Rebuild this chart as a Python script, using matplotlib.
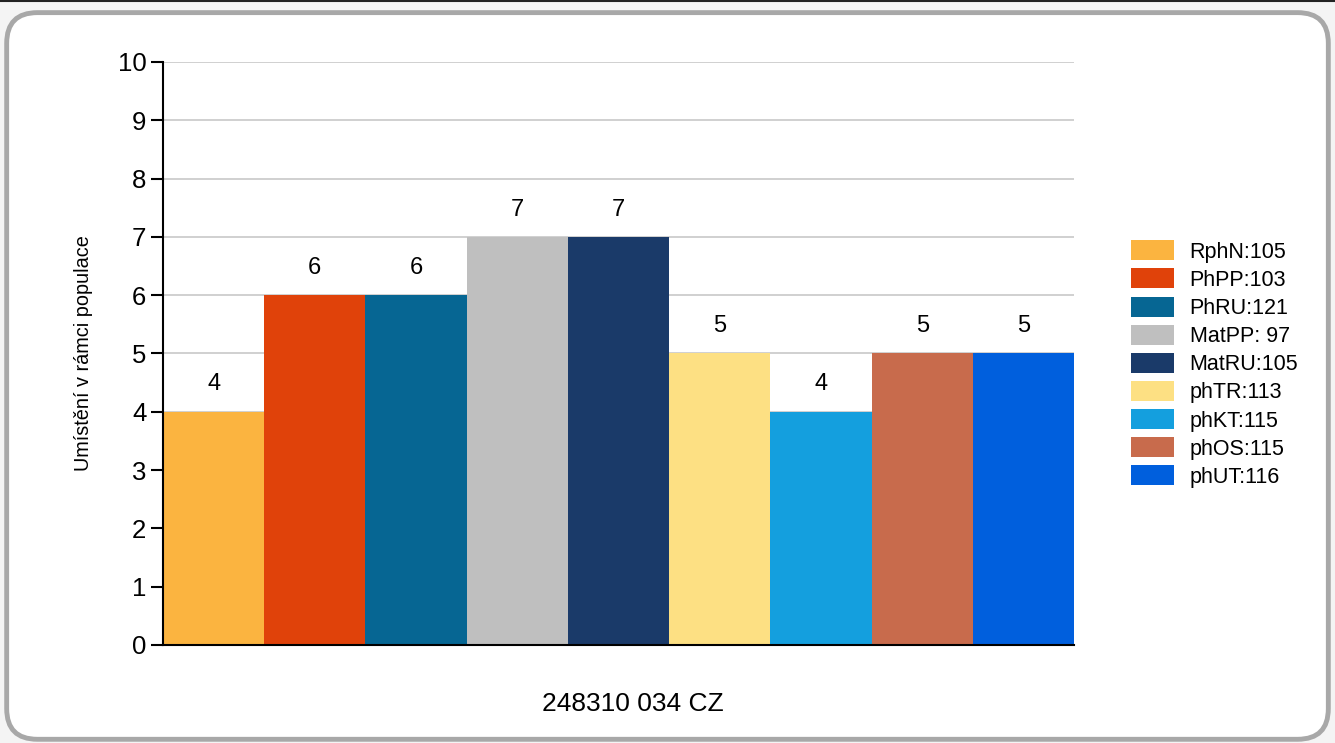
import matplotlib
matplotlib.use("Agg")
import matplotlib.pyplot as plt
from matplotlib.patches import FancyBboxPatch, Patch

# data
labels = ["RphN:105", "PhPP:103", "PhRU:121", "MatPP: 97", "MatRU:105",
          "phTR:113", "phKT:115", "phOS:115", "phUT:116"]
values = [4, 6, 6, 7, 7, 5, 4, 5, 5]
colors = ["#FBB440", "#E0420A", "#066693", "#BFBFBF", "#1A3A69",
          "#FDE083", "#149FDE", "#C86B4C", "#005FDD"]
yticks = list(range(0, 11))

plt.rcParams['font.family'] = ['Liberation Sans', 'DejaVu Sans']

fig = plt.figure(figsize=(13.35, 7.43), dpi=100)
fig.patch.set_facecolor("#f4f4f4")

# rounded white frame with grey border
frame = FancyBboxPatch((0.005, 0.005), 0.99, 0.978, transform=fig.transFigure,
                       boxstyle="round,pad=0,rounding_size=0.023",
                       facecolor="white", edgecolor="#a8a8a8", linewidth=3.5,
                       mutation_aspect=1335 / 743, zorder=-5)
fig.patches.append(frame)
fig.add_artist(plt.Line2D([0, 1], [0.999, 0.999], transform=fig.transFigure,
                          color="#222222", linewidth=1.5, zorder=-4))

ax = fig.add_axes([0.1221, 0.1319, 0.6824, 0.7847])
ax.set_facecolor("none")

x = list(range(len(values)))
bars = ax.bar(x, values, width=1.0, color=colors, zorder=2)
for xi, v in zip(x, values):
    ax.text(xi, v + 0.28, str(v), ha="center", va="bottom", fontsize=17, color="black")

ax.set_xlim(-0.5, len(values) - 0.5)
ax.set_ylim(0, 10)
ax.set_yticks(yticks)
ax.set_yticklabels([str(t) for t in yticks], fontsize=18.5)
ax.set_xticks([])
ax.yaxis.grid(True, color="#c8c8c8", linewidth=1.2, zorder=0)
ax.set_axisbelow(True)
ax.tick_params(axis="y", direction="out", length=9, width=1.5, pad=3)
for s in ["top", "right"]:
    ax.spines[s].set_visible(False)
ax.spines["left"].set_linewidth(1.5)
ax.spines["bottom"].set_linewidth(1.5)

ax.set_ylabel("Umístění v rámci populace", fontsize=14.3, labelpad=17.5)
ax.set_xlabel("248310 034 CZ", fontsize=19, labelpad=34, x=0.516)

handles = [Patch(facecolor=c, edgecolor="none") for c in colors]
leg = fig.legend(handles, labels, loc="center left", bbox_to_anchor=(0.833, 0.51),
                 frameon=False, fontsize=15.5, handlelength=2.0, handleheight=1.05,
                 labelspacing=0.27, handletextpad=0.7)

fig.savefig("out.png", dpi=100)
